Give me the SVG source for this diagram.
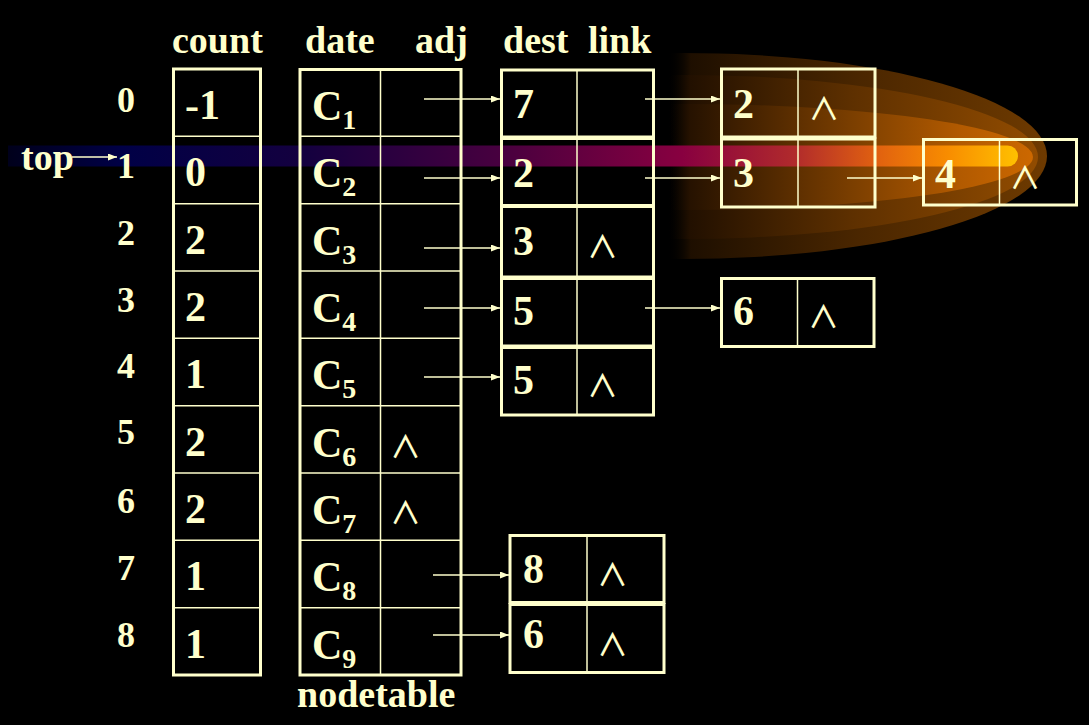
<svg xmlns="http://www.w3.org/2000/svg" width="1089" height="725" viewBox="0 0 1089 725">
<style>
.box{fill:none;stroke:#FFFFCC;stroke-width:3}
.dv{stroke:#FFFFCC;stroke-width:1.5}
.t{font-family:"Liberation Serif","Times New Roman",serif;font-weight:bold;fill:#FFFFCC}
.h{font-size:38px}
.rl{font-size:36px}
.c{font-size:42px}
.sub{font-size:28px}
.nil{font-family:"Noto Sans CJK SC","DejaVu Sans",sans-serif;font-weight:500;font-size:31px;fill:#FFFFCC;text-anchor:middle}
.conn line{stroke:#FFFFCC;stroke-width:1.5;marker-end:url(#ah)}
</style>
<defs>
<marker id="ah" markerUnits="userSpaceOnUse" markerWidth="10" markerHeight="8" refX="9" refY="3.5" orient="auto">
<path d="M0,0 L9,3.5 L0,7 Z" fill="#FFFFCC"/>
</marker>
<linearGradient id="gOut" gradientUnits="userSpaceOnUse" x1="668" y1="0" x2="1047" y2="0">
<stop offset="0" stop-color="#000000" stop-opacity="0"/>
<stop offset="0.06" stop-color="#1e0f00"/>
<stop offset="0.5" stop-color="#4a2600"/>
<stop offset="1" stop-color="#6e3a00"/>
</linearGradient>
<linearGradient id="gMid" gradientUnits="userSpaceOnUse" x1="668" y1="0" x2="1038" y2="0">
<stop offset="0" stop-color="#000000" stop-opacity="0"/>
<stop offset="0.06" stop-color="#221000"/>
<stop offset="0.5" stop-color="#5e3000"/>
<stop offset="1" stop-color="#924c00"/>
</linearGradient>
<linearGradient id="gIn" gradientUnits="userSpaceOnUse" x1="668" y1="0" x2="1033" y2="0">
<stop offset="0" stop-color="#000000" stop-opacity="0"/>
<stop offset="0.06" stop-color="#261200"/>
<stop offset="0.5" stop-color="#7a3e00"/>
<stop offset="0.8" stop-color="#b25a00"/>
<stop offset="1" stop-color="#cc6800"/>
</linearGradient>
<linearGradient id="gBar" gradientUnits="userSpaceOnUse" x1="0" y1="0" x2="1018" y2="0">
<stop offset="0" stop-color="#000018"/>
<stop offset="0.12" stop-color="#000046"/>
<stop offset="0.3" stop-color="#14003f"/>
<stop offset="0.5" stop-color="#4a003f"/>
<stop offset="0.67" stop-color="#880040"/>
<stop offset="0.78" stop-color="#b02a2c"/>
<stop offset="0.86" stop-color="#e06010"/>
<stop offset="0.93" stop-color="#f88c00"/>
<stop offset="1" stop-color="#ffc000"/>
</linearGradient>
</defs>
<rect x="0" y="0" width="1089" height="725" fill="#000000"/>
<g id="glow">
<ellipse cx="683" cy="156" rx="364" ry="103" fill="url(#gOut)"/>
<ellipse cx="683" cy="157" rx="355" ry="82" fill="url(#gMid)"/>
<ellipse cx="683" cy="157" rx="350" ry="53" fill="url(#gIn)"/>
<path d="M8,145.5 H1007.5 A10.5,10.5 0 0 1 1007.5,166.5 H8 Z" fill="url(#gBar)"/>
</g>
<g id="headers" class="t h">
<text x="172" y="53">count</text>
<text x="305" y="53">date</text>
<text x="415" y="53">adj</text>
<text x="503" y="53">dest</text>
<text x="588" y="53">link</text>
</g>
<g id="top">
<text class="t h" x="21" y="170">top</text>
</g>
<g id="rowlabels" class="t rl">
<text x="117" y="112">0</text>
<text x="117" y="178">1</text>
<text x="117" y="245">2</text>
<text x="117" y="312">3</text>
<text x="117" y="378">4</text>
<text x="117" y="444">5</text>
<text x="117" y="513">6</text>
<text x="117" y="580">7</text>
<text x="117" y="647">8</text>
</g>
<g id="count">
<rect class="box" x="173.5" y="69" width="87" height="606"/>
<line class="dv" x1="173.5" x2="260.5" y1="136.3" y2="136.3"/>
<line class="dv" x1="173.5" x2="260.5" y1="203.7" y2="203.7"/>
<line class="dv" x1="173.5" x2="260.5" y1="271" y2="271"/>
<line class="dv" x1="173.5" x2="260.5" y1="338.3" y2="338.3"/>
<line class="dv" x1="173.5" x2="260.5" y1="405.7" y2="405.7"/>
<line class="dv" x1="173.5" x2="260.5" y1="473" y2="473"/>
<line class="dv" x1="173.5" x2="260.5" y1="540.3" y2="540.3"/>
<line class="dv" x1="173.5" x2="260.5" y1="607.7" y2="607.7"/>
<g class="t c">
<text x="185" y="119">-1</text>
<text x="185" y="186">0</text>
<text x="185" y="254">2</text>
<text x="185" y="321">2</text>
<text x="185" y="388">1</text>
<text x="185" y="456">2</text>
<text x="185" y="523">2</text>
<text x="185" y="590">1</text>
<text x="185" y="658">1</text>
</g>
</g>
<g id="nodetable">
<rect class="box" x="300" y="69.5" width="161" height="605.5"/>
<line class="dv" x1="380.5" x2="380.5" y1="69.5" y2="675"/>
<line class="dv" x1="300" x2="461" y1="136.3" y2="136.3"/>
<line class="dv" x1="300" x2="461" y1="203.7" y2="203.7"/>
<line class="dv" x1="300" x2="461" y1="271" y2="271"/>
<line class="dv" x1="300" x2="461" y1="338.3" y2="338.3"/>
<line class="dv" x1="300" x2="461" y1="405.7" y2="405.7"/>
<line class="dv" x1="300" x2="461" y1="473" y2="473"/>
<line class="dv" x1="300" x2="461" y1="540.3" y2="540.3"/>
<line class="dv" x1="300" x2="461" y1="607.7" y2="607.7"/>
<g class="t c">
<text x="312" y="120">C<tspan class="sub" dy="9">1</tspan></text>
<text x="312" y="187">C<tspan class="sub" dy="9">2</tspan></text>
<text x="312" y="255">C<tspan class="sub" dy="9">3</tspan></text>
<text x="312" y="322">C<tspan class="sub" dy="9">4</tspan></text>
<text x="312" y="389">C<tspan class="sub" dy="9">5</tspan></text>
<text x="312" y="457">C<tspan class="sub" dy="9">6</tspan></text>
<text x="312" y="524">C<tspan class="sub" dy="9">7</tspan></text>
<text x="312" y="591">C<tspan class="sub" dy="9">8</tspan></text>
<text x="312" y="659">C<tspan class="sub" dy="9">9</tspan></text>
</g>
<text class="nil" x="405.5" y="458">∧</text>
<text class="nil" x="405.5" y="524">∧</text>
<text class="t h" x="297" y="707">nodetable</text>
</g>
<g id="e1">
<rect class="box" x="501.5" y="70" width="152" height="67"/>
<line class="dv" x1="577" x2="577" y1="70" y2="137"/>
<text class="t c" x="513" y="118">7</text>
</g>
<g id="e2">
<rect class="box" x="501.5" y="138.5" width="152" height="67"/>
<line class="dv" x1="577" x2="577" y1="138.5" y2="205.5"/>
<text class="t c" x="513" y="187">2</text>
</g>
<g id="e3">
<rect class="box" x="501.5" y="206.5" width="152" height="70.5"/>
<line class="dv" x1="577" x2="577" y1="206.5" y2="277"/>
<text class="t c" x="513" y="255">3</text>
<text class="nil" x="602.5" y="258">∧</text>
</g>
<g id="e4">
<rect class="box" x="501.5" y="278.5" width="152" height="67.5"/>
<line class="dv" x1="577" x2="577" y1="278.5" y2="346"/>
<text class="t c" x="513" y="325">5</text>
</g>
<g id="e5">
<rect class="box" x="501.5" y="347.5" width="152" height="67.5"/>
<line class="dv" x1="577" x2="577" y1="347.5" y2="415"/>
<text class="t c" x="513" y="394">5</text>
<text class="nil" x="602.5" y="397">∧</text>
</g>
<g id="e6">
<rect class="box" x="721.5" y="69" width="153.5" height="68"/>
<line class="dv" x1="798" x2="798" y1="69" y2="137"/>
<text class="t c" x="733" y="118">2</text>
<text class="nil" x="824" y="120">∧</text>
</g>
<g id="e7">
<rect class="box" x="721.5" y="139" width="153.5" height="68"/>
<line class="dv" x1="798" x2="798" y1="139" y2="207"/>
<text class="t c" x="733" y="187">3</text>
</g>
<g id="e8">
<rect class="box" x="923.5" y="139.5" width="153" height="65.5"/>
<line class="dv" x1="999.5" x2="999.5" y1="139.5" y2="205"/>
<text class="t c" x="935" y="188">4</text>
<text class="nil" x="1025" y="189">∧</text>
</g>
<g id="e9">
<rect class="box" x="721.5" y="278.5" width="152.5" height="68"/>
<line class="dv" x1="797.5" x2="797.5" y1="278.5" y2="346.5"/>
<text class="t c" x="733" y="325">6</text>
<text class="nil" x="823.5" y="328">∧</text>
</g>
<g id="e10">
<rect class="box" x="510" y="535.5" width="154" height="67"/>
<line class="dv" x1="587" x2="587" y1="535.5" y2="602.5"/>
<text class="t c" x="523" y="583">8</text>
<text class="nil" x="612.5" y="586">∧</text>
</g>
<g id="e11">
<rect class="box" x="510" y="604.5" width="154" height="68"/>
<line class="dv" x1="587" x2="587" y1="604.5" y2="672.5"/>
<text class="t c" x="523" y="648">6</text>
<text class="nil" x="612.5" y="656">∧</text>
</g>
<g id="connectors" class="conn">
<line x1="72" y1="157" x2="117" y2="157"/>
<line x1="424" y1="99" x2="500" y2="99"/>
<line x1="424" y1="178" x2="500" y2="178"/>
<line x1="424" y1="248" x2="500" y2="248"/>
<line x1="424" y1="308" x2="500" y2="308"/>
<line x1="424" y1="377" x2="500" y2="377"/>
<line x1="433" y1="575" x2="509" y2="575"/>
<line x1="433" y1="635" x2="509" y2="635"/>
<line x1="645" y1="99" x2="720" y2="99"/>
<line x1="645" y1="178" x2="720" y2="178"/>
<line x1="645" y1="308" x2="720" y2="308"/>
<line x1="847" y1="178" x2="922" y2="178"/>
</g>
</svg>
